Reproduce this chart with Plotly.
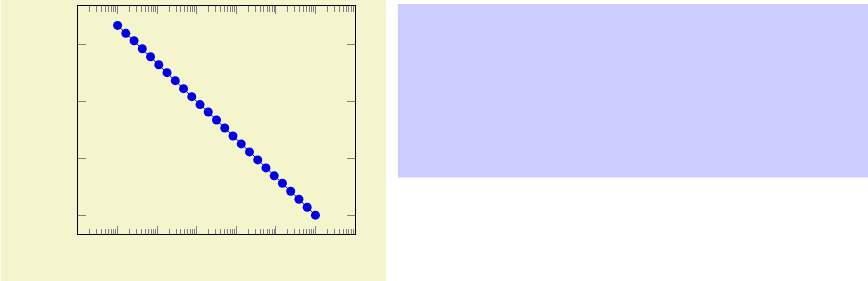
import plotly.graph_objects as go

x_values = [10, 16.16, 26.1, 42.17, 68.13, 110.1, 177.8, 287.3, 464.2, 749.9,
            1212, 1958, 3162, 5109, 8254, 13335, 21544, 34807, 56234, 90852,
            146780, 237137, 383119, 618966, 1000000]
y_values = [3.33, 3.19, 3.06, 2.92, 2.78, 2.64, 2.50, 2.36, 2.22, 2.08,
            1.94, 1.81, 1.67, 1.53, 1.39, 1.25, 1.11, 0.97, 0.83, 0.69,
            0.56, 0.42, 0.28, 0.14, 0.00]
y_ticks = [0, 1, 2, 3]

W, H = 868, 281
L, R, T, B = 77.5, 355, 6, 234.3

def px_to_paper_x(p):
    return (p - L) / (R - L)

def px_to_paper_y(p):
    return (H - B - (H - p)) / (B - T) * -1 + 0 if False else (B - p) / (B - T)

fig = go.Figure()
fig.add_trace(go.Scatter(
    x=x_values, y=y_values, mode="lines+markers",
    line=dict(color="rgb(0,0,230)", width=1),
    marker=dict(color="rgb(0,0,230)", size=9, line=dict(width=0)),
    showlegend=False, hoverinfo="skip",
))

beige = "rgb(245,245,205)"
fig.add_shape(type="rect", xref="paper", yref="paper", layer="below",
              x0=px_to_paper_x(0), x1=px_to_paper_x(386),
              y0=px_to_paper_y(H + 5), y1=px_to_paper_y(-5),
              fillcolor=beige, line=dict(width=0))
fig.add_shape(type="rect", xref="paper", yref="paper", layer="below",
              x0=px_to_paper_x(398), x1=px_to_paper_x(W + 5),
              y0=px_to_paper_y(177.7), y1=px_to_paper_y(4),
              fillcolor="rgb(204,204,255)", line=dict(width=0))

tick_color = "rgb(128,128,128)"
fig.update_xaxes(
    type="log", range=[0, 7], showgrid=False, zeroline=False,
    showline=True, linecolor="black", linewidth=1, mirror="allticks",
    ticks="inside", ticklen=8, tickwidth=1, tickcolor=tick_color,
    dtick=1, showticklabels=False,
    minor=dict(ticks="inside", ticklen=5.5, tickwidth=1, tickcolor=tick_color,
               dtick="D1", showgrid=False),
)
fig.update_yaxes(
    range=[-0.33, 3.67], showgrid=False, zeroline=False,
    showline=True, linecolor="black", linewidth=1, mirror="allticks",
    ticks="inside", ticklen=8, tickwidth=1, tickcolor=tick_color,
    tickvals=y_ticks, showticklabels=False,
)
fig.update_layout(
    width=W, height=H,
    margin=dict(l=L, r=W - R, t=T, b=H - B, pad=0),
    paper_bgcolor="white", plot_bgcolor=beige,
)
fig.write_html("out.html")
